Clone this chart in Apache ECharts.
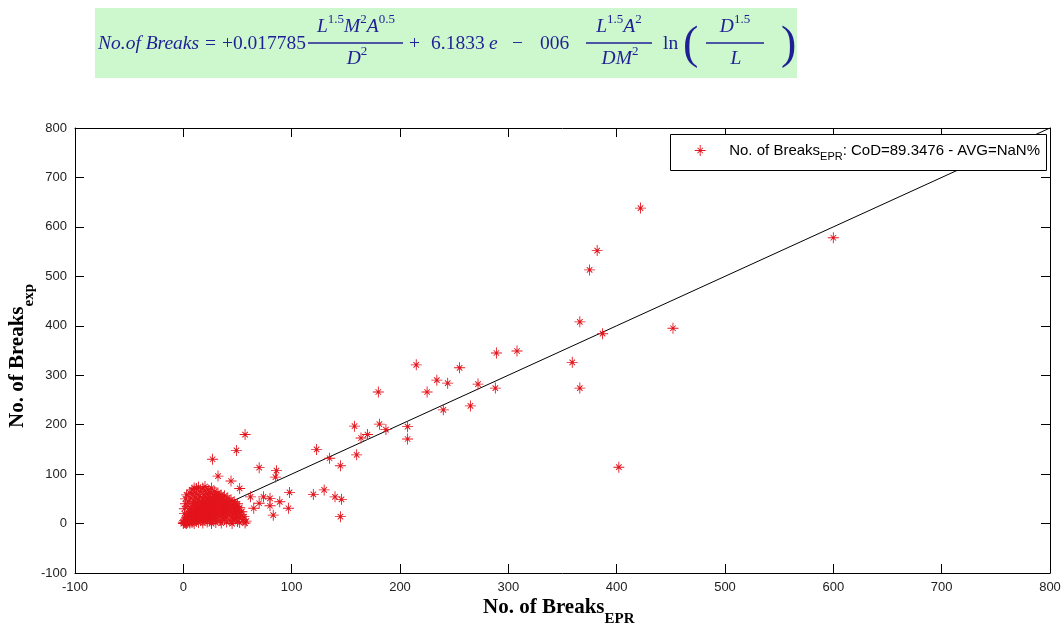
<!DOCTYPE html>
<html>
<head>
<meta charset="utf-8">
<script src="https://cdn.jsdelivr.net/npm/echarts@6/dist/echarts.min.js"></script>
<style>
html,body{margin:0;padding:0;background:#fff;}
#chart{width:1064px;height:631px;}
</style>
</head>
<body>
<div id="chart"></div>
<script>
// ---- data ----
const seriesName = 'No. of Breaks EPR';
const legendMain = 'No. of Breaks';
const legendSub = 'EPR';
const legendTail = ': CoD=89.3476 - AVG=NaN%';
const xTitleMain = 'No. of Breaks', xTitleSub = 'EPR';
const yTitleMain = 'No. of Breaks', yTitleSub = 'exp';
const axisMin = -100, axisMax = 800, axisStep = 100;

// dense cluster near the origin
const pointsCluster = [
[0,0],[1,2],[2,1],[3,4],[1,6],[4,2],[5,5],[2,9],[6,3],[3,12],[5,8],[7,6],[8,2],[4,15],[6,11],[8,9],[9,4],[10,7],[7,14],[5,20],
[9,12],[11,10],[12,5],[10,16],[8,19],[6,25],[12,13],[13,8],[14,11],[11,18],[9,23],[7,30],[13,16],[15,14],[16,9],[12,21],[10,27],
[8,34],[14,19],[16,17],[17,12],[18,6],[13,25],[11,31],[9,40],[15,22],[17,20],[19,15],[20,10],[14,28],[12,36],[10,45],[16,26],
[18,24],[20,18],[21,13],[22,7],[15,33],[13,42],[11,52],[17,30],[19,28],[21,22],[23,16],[24,10],[16,38],[14,48],[12,60],[18,35],
[20,32],[22,26],[24,20],[25,14],[26,5],[17,44],[15,55],[19,40],[21,37],[23,30],[25,24],[27,18],[28,11],[18,50],[16,65],[20,46],
[22,42],[24,35],[26,28],[28,22],[29,15],[30,8],[19,58],[21,53],[23,48],[25,40],[27,33],[29,26],[31,19],[32,12],[20,66],[22,60],
[24,54],[26,45],[28,38],[30,30],[32,24],[33,16],[34,6],[23,68],[25,62],[27,52],[29,44],[31,36],[33,28],[35,20],[36,12],[26,72],
[28,58],[30,50],[32,42],[34,33],[36,25],[37,16],[38,8],[29,65],[31,56],[33,48],[35,38],[37,30],[39,22],[40,13],[32,62],[34,54],
[36,44],[38,35],[40,27],[42,18],[43,6],[35,58],[37,50],[39,40],[41,32],[43,24],[45,14],[38,56],[40,46],[42,37],[44,28],[46,20],
[48,10],[41,52],[43,42],[45,33],[47,25],[49,16],[50,4],[44,48],[46,38],[48,30],[50,22],[52,12],[47,44],[49,35],[51,27],[53,18],
[55,8],[50,40],[52,32],[54,24],[56,14],[58,5],[3,0],[6,1],[10,0],[14,2],[18,1],[22,3],[26,0],[30,2],[35,1],[40,3],[45,0],[52,2],
[0,3],[1,20],[1,30],[2,40],[2,50],[3,58],[5,45],[6,62],[8,68],[10,72],[12,70],[14,74],[18,72],[20,75],[4,35],[7,52],[9,60]
];
// scattered points
const pointsSpread = [
[27,130],[49,148],[57,180],[32,96],[44,86],[12,71],[52,71],[70,113],[86,107],[85,94],[70,41],[65,31],[80,51],[89,44],[97,31],
[98,63],[83,17],[57,1],[46,7],[62,54],[74,54],[80,36],[120,59],[130,68],[140,54],[146,49],[145,14],[123,150],[135,132],[145,117],
[158,197],[181,201],[207,196],[160,139],[164,173],[170,180],[187,190],[207,171],[180,266],[215,321],[225,266],[234,290],[244,284],
[240,230],[255,315],[265,238],[272,282],[289,345],[288,274],[308,349],[359,326],[366,408],[366,274],[375,513],[382,552],[387,384],
[422,638],[452,395],[402,114],[600,578]
];
const fitLine = [[0,0],[800,800]];

// ---- styles ----
const RED = '#e3141c';
const NAVY = '#1f1f96';
const star = 'path://M9.2 0L10.8 0L10.8 20L9.2 20Z M0 9.2L20 9.2L20 10.8L0 10.8Z M5.6 4.4L15.6 14.4L14.4 15.6L4.4 5.6Z M14.4 4.4L15.6 5.6L5.6 15.6L4.4 14.4Z';

const chart = echarts.init(document.getElementById('chart'), null, {renderer:'canvas'});

function axisCommon(pos, showLabel){
  return {
    type:'value', min:axisMin, max:axisMax, interval:axisStep, position:pos,
    axisLine:{show:true, onZero:false, lineStyle:{color:'#000', width:1}},
    axisTick:{show:true, inside:true, length:9, lineStyle:{color:'#000', width:1}},
    axisLabel:{show:showLabel, color:'#222', fontSize:13, fontFamily:'Liberation Sans', margin:8},
    splitLine:{show:false}
  };
}

const serif = 'Liberation Serif';
const mi = {fontStyle:'italic', fontSize:19.5, fontFamily:serif, color:NAVY};
const mr = {fontSize:19.5, fontFamily:serif, color:NAVY};
const sup = {fontSize:13, fontFamily:serif, color:NAVY, padding:[0,0,15,0]};
const mathRich = {i:mi, r:mr, s:sup};

function mtext(x, y, text, align){
  return {type:'text', x:x, y:y, z:1, style:{text:text, rich:mathRich, align:align||'left', verticalAlign:'middle', textAlign:align||'left', textVerticalAlign:'middle', font:'19.5px "Liberation Serif"', fill:NAVY}};
}
function mline(x1,x2,y){
  return {type:'line', z:1, shape:{x1:x1,y1:y,x2:x2,y2:y}, style:{stroke:NAVY, lineWidth:1.3}};
}

const titleRich = {
  a:{fontSize:21, fontWeight:'bold', fontFamily:serif, color:NAVY},
  b:{fontSize:15, fontWeight:'bold', fontFamily:serif, color:NAVY, padding:[22,0,0,0]}
};

chart.setOption({
  animation:false,
  backgroundColor:'#fff',
  grid:{left:75, top:128, right:14, bottom:58, containLabel:false},
  xAxis:[axisCommon('bottom', true), axisCommon('top', false)],
  yAxis:[axisCommon('left', true), axisCommon('right', false)],
  legend:{
    data:[seriesName], right:17, top:134, orient:'horizontal', z:8,
    backgroundColor:'transparent', borderWidth:0,
    padding:[9,7,9,6], itemWidth:48, itemHeight:11, symbolKeepAspect:true,
    formatter:function(){ return '{a|'+legendMain+'}{b|'+legendSub+'}{a|'+legendTail+'}'; },
    textStyle:{color:'#000', fontFamily:'Liberation Sans', fontSize:15,
      rich:{a:{fontSize:15, fontFamily:'Liberation Sans', color:'#000'},
            b:{fontSize:11, fontFamily:'Liberation Sans', color:'#000', padding:[12,0,0,0]}}}
  },
  series:[
    {name:seriesName, type:'scatter', xAxisIndex:0, yAxisIndex:0, z:2,
     data:pointsCluster.concat(pointsSpread), symbol:star, symbolSize:11,
     itemStyle:{color:RED, opacity:1}},
    {name:'fit', type:'line', xAxisIndex:0, yAxisIndex:0, data:fitLine, symbol:'none', z:2,
     lineStyle:{color:'#000', width:1}, silent:true, clip:true}
  ],
  graphic:[
    {type:'rect', z:0, shape:{x:95, y:8, width:702, height:70}, style:{fill:'#cdf7cd'}},
    {type:'rect', z:5, shape:{x:670.5, y:134.5, width:376, height:36}, style:{fill:'#fff', stroke:'#000', lineWidth:1}},
    mtext(98, 44, '{i|No.of Breaks}'),
    mtext(205, 44, '{r|=}'),
    mtext(222, 44, '{r|+0.017785}'),
    mtext(356, 27, '{i|L}{s|1.5}{i|M}{s|2}{i|A}{s|0.5}', 'center'),
    mline(308, 403, 43),
    mtext(357, 59, '{i|D}{s|2}', 'center'),
    mtext(409, 44, '{r|+}'),
    mtext(431, 44, '{r|6.1833}'),
    mtext(489, 44, '{i|e}'),
    mtext(512, 44, '{r|−}'),
    mtext(540, 44, '{r|006}'),
    mtext(619, 27, '{i|L}{s|1.5}{i|A}{s|2}', 'center'),
    mline(586, 652, 43),
    mtext(620, 59, '{i|DM}{s|2}', 'center'),
    mtext(663, 44, '{r|ln}'),
    {type:'text', x:683, y:46, z:1, style:{text:'(', font:'46px "Liberation Serif"', fill:NAVY, align:'left', verticalAlign:'middle', textAlign:'left', textVerticalAlign:'middle'}},
    mtext(735, 27, '{i|D}{s|1.5}', 'center'),
    mline(706, 764, 43),
    mtext(736, 59, '{i|L}', 'center'),
    {type:'text', x:781, y:46, z:1, style:{text:')', font:'46px "Liberation Serif"', fill:NAVY, align:'left', verticalAlign:'middle', textAlign:'left', textVerticalAlign:'middle'}},
    // axis titles
    {type:'text', x:483, y:608, z:1, style:{text:'{a|'+xTitleMain+'}{b|'+xTitleSub+'}', rich:titleRich, align:'left', verticalAlign:'middle', textAlign:'left', textVerticalAlign:'middle'}},
    {type:'text', x:18, y:428, z:1, rotation:Math.PI/2, style:{text:'{a|'+yTitleMain+'}{b|'+yTitleSub+'}', rich:titleRich, align:'left', verticalAlign:'middle', textAlign:'left', textVerticalAlign:'middle'}}
  ]
});
</script>
</body>
</html>
